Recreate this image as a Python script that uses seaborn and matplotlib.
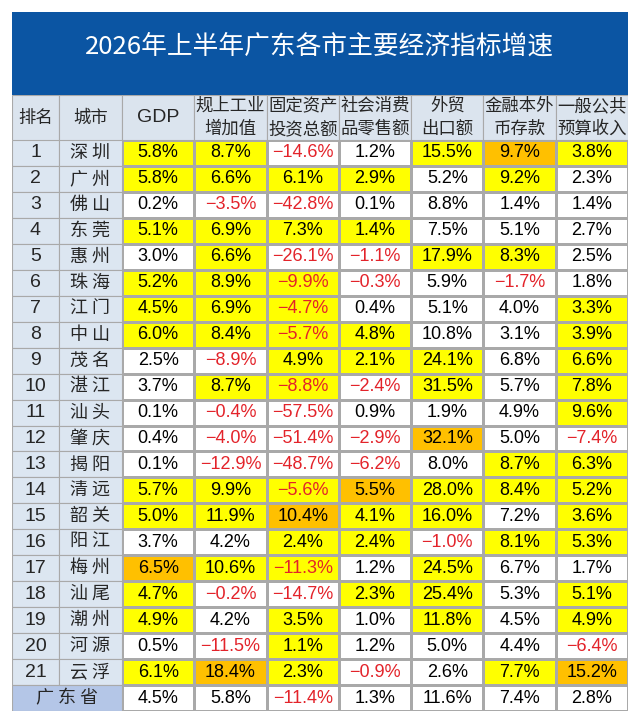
import numpy as np
import pandas as pd
import matplotlib
matplotlib.use('Agg')
import matplotlib.pyplot as plt
import seaborn as sns
from matplotlib.colors import ListedColormap
from matplotlib.patches import Rectangle

# 数据：2026年上半年广东各市主要经济指标增速（%）
cities = ['深圳', '广州', '佛山', '东莞', '惠州', '珠海', '江门', '中山', '茂名', '湛江', '汕头',
          '肇庆', '揭阳', '清远', '韶关', '阳江', '梅州', '汕尾', '潮州', '河源', '云浮']
ranks = list(range(1, 22))
headers = ['GDP', '规上工业\n增加值', '固定资产\n投资总额', '社会消费\n品零售额',
           '外贸\n出口额', '金融本外\n币存款', '一般公共\n预算收入']

gdp = [5.8, 5.8, 0.2, 5.1, 3.0, 5.2, 4.5, 6.0, 2.5, 3.7, 0.1, 0.4, 0.1, 5.7, 5.0, 3.7, 6.5, 4.7, 4.9, 0.5, 6.1]
industry = [8.7, 6.6, -3.5, 6.9, 6.6, 8.9, 6.9, 8.4, -8.9, 8.7, -0.4, -4.0, -12.9, 9.9, 11.9, 4.2, 10.6, -0.2, 4.2, -11.5, 18.4]
fixed_inv = [-14.6, 6.1, -42.8, 7.3, -26.1, -9.9, -4.7, -5.7, 4.9, -8.8, -57.5, -51.4, -48.7, -5.6, 10.4, 2.4, -11.3, -14.7, 3.5, 1.1, 2.3]
retail = [1.2, 2.9, 0.1, 1.4, -1.1, -0.3, 0.4, 4.8, 2.1, -2.4, 0.9, -2.9, -6.2, 5.5, 4.1, 2.4, 1.2, 2.3, 1.0, 1.2, -0.9]
export = [15.5, 5.2, 8.8, 7.5, 17.9, 5.9, 5.1, 10.8, 24.1, 31.5, 1.9, 32.1, 8.0, 28.0, 16.0, -1.0, 24.5, 25.4, 11.8, 5.0, 2.6]
deposits = [9.7, 9.2, 1.4, 5.1, 8.3, -1.7, 4.0, 3.1, 6.8, 5.7, 4.9, 5.0, 8.7, 8.4, 7.2, 8.1, 6.7, 5.3, 4.5, 4.4, 7.7]
budget = [3.8, 2.3, 1.4, 2.7, 2.5, 1.8, 3.3, 3.9, 6.6, 7.8, 9.6, -7.4, 6.3, 5.2, 3.6, 5.3, 1.7, 5.1, 4.9, -6.4, 15.2]
province = [4.5, 5.8, -11.4, 1.3, 11.6, 7.4, 2.8]

W, H = 640, 724
BANNER = '#0b55a3'
HEAD_BG = '#dbe4ee'
SIDE_BG = '#dce6f1'
PROV_BG = '#b4c6e7'
GRID = '#a9a9a9'
RED = '#e3232a'
CJK = ['Noto Sans CJK SC', 'DejaVu Sans']
NUM = ['Liberation Sans', 'DejaVu Sans']

df = pd.DataFrame(np.column_stack([gdp, industry, fixed_inv, retail, export, deposits, budget]),
                  index=cities, columns=headers)

# 高亮：不低于全省 -> 黄色，各列最高 -> 橙色
codes = (df.values >= np.array(province)).astype(int)
codes[df.values == df.values.max(axis=0)] = 2
codes = np.vstack([codes, np.zeros((1, len(headers)), dtype=int)])
values = np.vstack([df.values, province])
labels = np.vectorize(lambda v: f'{v:.1f}%'.replace('-', '−'))(values)


def box(x0, y0, x1, y1):
    return [x0 / W, 1 - y1 / H, (x1 - x0) / W, (y1 - y0) / H]


sns.set_theme(style='white')
plt.rcParams['font.family'] = CJK
fig = plt.figure(figsize=(W / 100, H / 100), dpi=100)
fig.patch.set_facecolor('white')

# 标题横幅
fig.add_artist(Rectangle((12 / W, 1 - 95 / H), 616 / W, 83 / H, transform=fig.transFigure,
                         facecolor=BANNER, edgecolor='none'))
fig.text(320 / W, 1 - 47 / H, '2026年上半年广东各市主要经济指标增速', color='white',
         fontsize=18.5, ha='center', va='center', family=CJK, fontweight='medium')

# 数据区
left, right, top, bottom = 122, 628, 140, 711
ax = fig.add_axes(box(left, top, right, bottom))
cmap = ListedColormap(['#ffffff', '#ffff00', '#ffc000'])
sns.heatmap(codes, cmap=cmap, vmin=-0.5, vmax=2.5, annot=labels, fmt='', cbar=False,
            linewidths=0.8, linecolor=GRID, xticklabels=False, yticklabels=False, ax=ax,
            annot_kws=dict(fontsize=13, family=NUM))
for t, v in zip(ax.texts, values.flatten()):
    t.set_color(RED if v < 0 else 'black')

# 表头
col_w = (right - left) / len(headers)
edges = [12, 59, left] + [left + col_w * (i + 1) for i in range(len(headers))]
head_txt = ['排名', '城市'] + headers
axh = fig.add_axes(box(12, 95, right, top))
axh.set_xlim(12, right)
axh.set_ylim(0, 1)
axh.axis('off')
for i, txt in enumerate(head_txt):
    x0, x1 = edges[i], edges[i + 1]
    axh.add_patch(Rectangle((x0, 0), x1 - x0, 1, facecolor=HEAD_BG, edgecolor=GRID, lw=0.8))
    fam = NUM if txt == 'GDP' else CJK
    axh.text((x0 + x1) / 2, 0.5, txt, ha='center', va='center', fontsize=12.5 if txt != 'GDP' else 14,
             family=fam, linespacing=1.35)

# 排名和城市列
axl = fig.add_axes(box(12, top, left, bottom))
axl.set_xlim(12, left)
axl.set_ylim(len(cities) + 1, 0)
axl.axis('off')
for r, (rk, city) in enumerate(zip(ranks, cities)):
    axl.add_patch(Rectangle((edges[0], r), edges[1] - edges[0], 1, facecolor=SIDE_BG, edgecolor=GRID, lw=0.8))
    axl.add_patch(Rectangle((edges[1], r), edges[2] - edges[1], 1, facecolor=SIDE_BG, edgecolor=GRID, lw=0.8))
    axl.text((edges[0] + edges[1]) / 2, r + 0.5, str(rk), ha='center', va='center', fontsize=14, family=NUM)
    axl.text((edges[1] + edges[2]) / 2, r + 0.5, ' '.join(city), ha='center', va='center', fontsize=13, family=CJK)
r = len(cities)
axl.add_patch(Rectangle((edges[0], r), edges[2] - edges[0], 1, facecolor=PROV_BG, edgecolor=GRID, lw=0.8))
axl.text((edges[0] + edges[2]) / 2, r + 0.5, ' '.join('广东省'), ha='center', va='center', fontsize=13, family=CJK)

fig.savefig('out.png', dpi=100, facecolor='white')
